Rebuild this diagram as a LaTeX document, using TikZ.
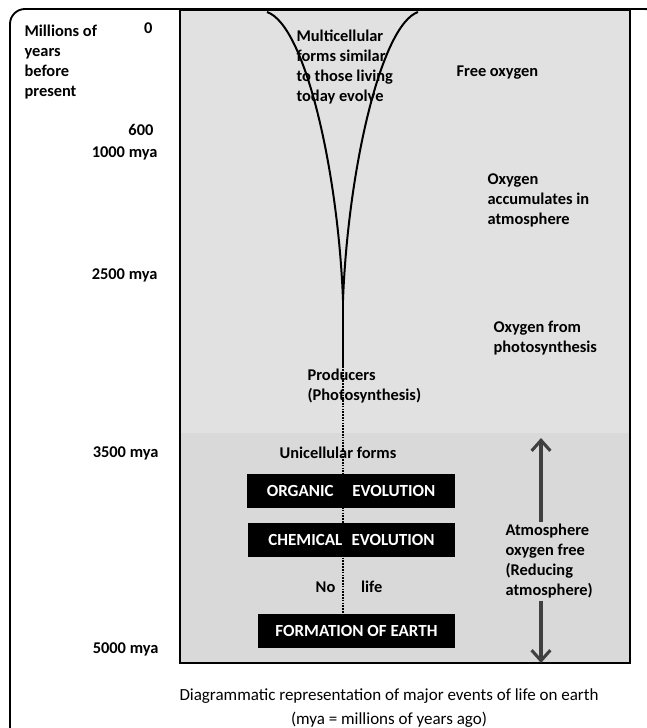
\documentclass[tikz,border=0pt]{standalone}
\usepackage{fontspec}
\setmainfont{Carlito}
\usetikzlibrary{arrows.meta}

\definecolor{upgray}{HTML}{E1E1E1}
\definecolor{lowgray}{HTML}{D9D9D9}

\begin{document}
\begin{tikzpicture}[x = {(0.03cm,0cm)},
y = {(0cm,-0.03cm)},
lbl/.style = {font=\bfseries\fontsize{14}{17}\selectfont, align=left, inner sep=2pt},
blk/.style = {fill=black, text=white, font=\bfseries\fontsize{14.5}{17}\selectfont, minimum height=1.02cm, inner sep=0pt},
arr/.style = {-{Straight Barb[length=9pt,width=16pt]}, line width=2.6pt, draw=black!75}]
\useasboundingbox (0,0) rectangle (647,728);
\clip (0,0) rectangle (647,728);

\draw[line width=1.6pt, rounded corners=0.45cm] (10,9) rectangle (660,745);

\fill[upgray] (180,10) rectangle (630,433);
\fill[lowgray] (180,433) rectangle (630,663);
\draw[line width=2.4pt] (180,10) rectangle (630,663);

\node[lbl, anchor=west] (years) at (22,62) {Millions of\\years\\before\\present};
\node[lbl, anchor=east] (t0) at (155,28) {0};
\node[lbl, anchor=east] (t600) at (156,130) {600};
\node[lbl, anchor=east] (t1000) at (160,153) {1000 mya};
\node[lbl, anchor=east] (t2500) at (160,275) {2500 mya};
\node[lbl, anchor=east] (t3500) at (161,453) {3500 mya};
\node[lbl, anchor=east] (t5000) at (161,649) {5000 mya};

\coordinate (vl) at (267,12);
\coordinate (vr) at (418,12);
\coordinate (tip) at (343,300);

\node[lbl, anchor=west] (multi) at (294,67) {Multicellular\\forms similar\\to those living\\today evolve};
\node[lbl, anchor=west] (free) at (454,73) {Free oxygen};
\node[lbl, anchor=west] (accum) at (485,200) {Oxygen\\accumulates in\\atmosphere};
\node[lbl, anchor=west] (photo) at (491,338) {Oxygen from\\photosynthesis};
\node[lbl, anchor=west] (prod) at (305,386) {Producers\\(Photosynthesis)};
\node[lbl] (uni) at (338,453) {Unicellular forms};

\draw[line width=1.7pt] (vl) .. controls (305,25) and (338,170) .. (tip);
\draw[line width=1.7pt] (vr) .. controls (381,25) and (348,170) .. (tip);
\draw[line width=1.7pt] (tip) -- (tip |- prod.north);

\node[blk, minimum width=6.24cm] (organic) at (351,491) {ORGANIC\hspace{16pt}EVOLUTION};
\node[blk, minimum width=6.21cm] (chem) at (351.5,540) {CHEMICAL\hspace{8pt}EVOLUTION};
\node[lbl] (nolife) at (349,587) {No\hspace{22pt}life};
\node[blk, minimum width=5.91cm] (earth) at (356.5,631) {FORMATION OF EARTH};

\draw[densely dotted, line width=1.4pt] (tip |- prod.north) -- (tip |- earth.north);

\node[lbl, anchor=west] (atm) at (503,561) {Atmosphere\\oxygen free\\(Reducing\\atmosphere)};
\coordinate (up) at (541,438);
\coordinate (dn) at (541,663);
\draw[arr] (atm.north -| up) -- (up);
\draw[arr] (atm.south -| dn) -- (dn);

\node[font=\fontsize{14.5}{20}\selectfont, align=center] (cap) at (389,708) {Diagrammatic representation of major events of life on earth\\(mya = millions of years ago)};
\end{tikzpicture}
\end{document}
